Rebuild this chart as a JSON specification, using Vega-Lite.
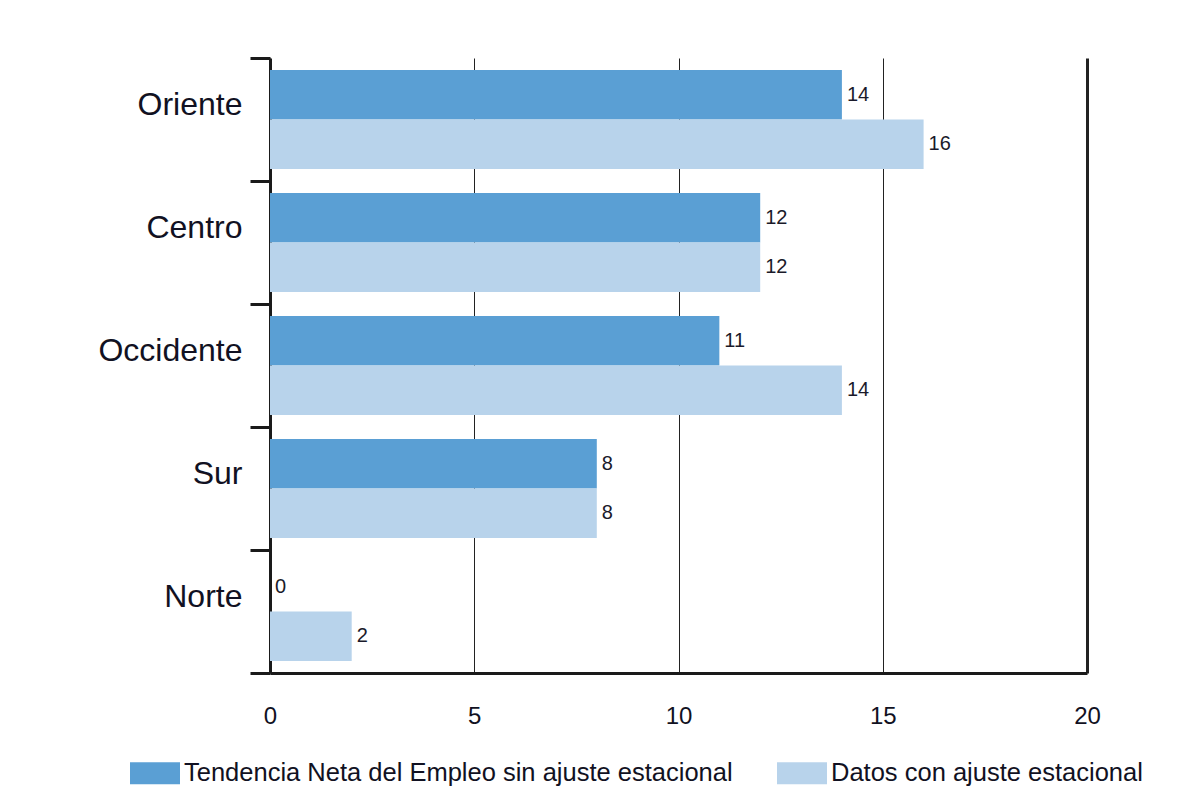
{
  "$schema": "https://vega.github.io/schema/vega-lite/v6.json",
  "width": 817,
  "height": 615,
  "autosize": {"type": "none"},
  "padding": {"left": 270, "top": 58, "right": 116, "bottom": 138},
  "background": "white",
  "config": {
    "view": {"stroke": null},
    "font": "Liberation Sans",
    "axis": {"labelFont": "Liberation Sans", "labelColor": "#1a1a2a"},
    "legend": {"labelFont": "Liberation Sans"}
  },
  "data": {
    "values": [
      {"region": "Oriente", "serie": "Tendencia Neta del Empleo sin ajuste estacional", "valor": 14},
      {"region": "Oriente", "serie": "Datos con ajuste estacional", "valor": 16},
      {"region": "Centro", "serie": "Tendencia Neta del Empleo sin ajuste estacional", "valor": 12},
      {"region": "Centro", "serie": "Datos con ajuste estacional", "valor": 12},
      {"region": "Occidente", "serie": "Tendencia Neta del Empleo sin ajuste estacional", "valor": 11},
      {"region": "Occidente", "serie": "Datos con ajuste estacional", "valor": 14},
      {"region": "Sur", "serie": "Tendencia Neta del Empleo sin ajuste estacional", "valor": 8},
      {"region": "Sur", "serie": "Datos con ajuste estacional", "valor": 8},
      {"region": "Norte", "serie": "Tendencia Neta del Empleo sin ajuste estacional", "valor": 0},
      {"region": "Norte", "serie": "Datos con ajuste estacional", "valor": 2}
    ]
  },
  "encoding": {
    "y": {
      "field": "region",
      "type": "nominal",
      "sort": ["Oriente", "Centro", "Occidente", "Sur", "Norte"],
      "scale": {"paddingInner": 0, "paddingOuter": 0},
      "axis": {
        "title": null,
        "tickBand": "extent",
        "tickSize": 20,
        "tickWidth": 3,
        "tickColor": "#1a1a1a",
        "domainWidth": 3,
        "domainColor": "#1a1a1a",
        "labelFontSize": 32,
        "labelPadding": 8,
        "labelOffset": -15,
        "labelColor": "#111122"
      }
    },
    "yOffset": {
      "field": "serie",
      "type": "nominal",
      "sort": ["Tendencia Neta del Empleo sin ajuste estacional", "Datos con ajuste estacional"],
      "scale": {"paddingOuter": 0.24, "paddingInner": 0}
    },
    "x": {
      "field": "valor",
      "type": "quantitative",
      "scale": {"domain": [0, 20], "nice": false},
      "axis": {
        "title": null,
        "values": [0, 5, 10, 15, 20],
        "ticks": false,
        "grid": true,
        "gridColor": "#222222",
        "gridWidth": {"condition": {"test": "datum.value === 20", "value": 3}, "value": 1},
        "domainWidth": 3,
        "domainColor": "#1a1a1a",
        "labelFontSize": 24,
        "labelFlush": false,
        "labelPadding": 31,
        "labelColor": "#111122"
      }
    }
  },
  "layer": [
    {
      "mark": {"type": "bar"},
      "encoding": {
        "color": {
          "field": "serie",
          "type": "nominal",
          "sort": ["Tendencia Neta del Empleo sin ajuste estacional", "Datos con ajuste estacional"],
          "scale": {
            "domain": ["Tendencia Neta del Empleo sin ajuste estacional", "Datos con ajuste estacional"],
            "range": ["#5a9fd4", "#b8d3eb"]
          },
          "legend": {
            "title": null,
            "orient": "none",
            "legendX": -140,
            "legendY": 690,
            "direction": "horizontal",
            "labelFontSize": 25.5,
            "labelColor": "#111122",
            "symbolType": "M-1,-0.44H1V0.44H-1Z",
            "symbolSize": 2500,
            "symbolStrokeWidth": 0,
            "labelOffset": 4,
            "columnPadding": 44,
            "labelLimit": 700
          }
        }
      }
    },
    {
      "mark": {"type": "text", "align": "left", "baseline": "middle", "dx": 5, "fontSize": 20, "color": "#1a1a2a"},
      "encoding": {
        "text": {"field": "valor", "type": "quantitative"}
      }
    }
  ]
}
